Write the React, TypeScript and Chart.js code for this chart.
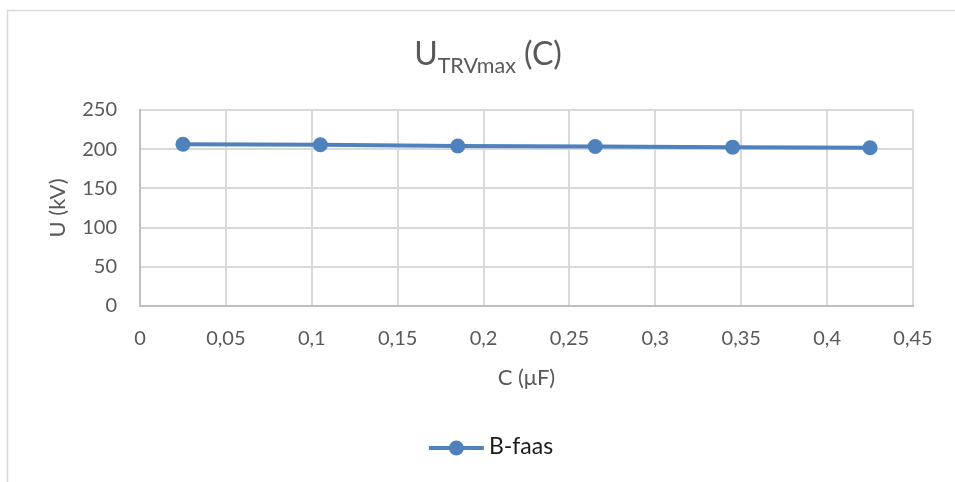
import React, { useEffect, useRef } from 'react';
import { Chart, registerables } from 'chart.js';

Chart.register(...registerables);

// ---- data ----
const capacitance = [0.025, 0.105, 0.185, 0.265, 0.345, 0.425];
const bFaas = [206.4, 205.6, 204.0, 203.4, 202.6, 201.8];
const seriesName = 'B-faas';
const titleMain = 'U';
const titleSub = 'TRVmax';
const titleTail = ' (C)';
const xAxisTitle = 'C (μF)';
const yAxisTitle = 'U (kV)';
const xMin = 0;
const xMax = 0.45;
const xStep = 0.05;
const yMin = 0;
const yMax = 250;
const yStep = 50;

// ---- style ----
const FONT = 'Lato, "Open Sans", sans-serif';
const BLUE = '#4F81BD';
const TEXT = '#595959';
const GRID = '#d9d9d9';
const AXIS = '#bfbfbf';
const W = 955;
const H = 482;
const CENTER_X = 488;

const fmt = (v: number) => String(Math.round(v * 1000) / 1000).replace('.', ',');

const decorPlugin = {
  id: 'decor',
  beforeDraw(chart: any) {
    const ctx = chart.ctx as CanvasRenderingContext2D;
    ctx.save();
    ctx.fillStyle = '#ffffff';
    ctx.fillRect(0, 0, chart.width, chart.height);
    ctx.strokeStyle = GRID;
    ctx.lineWidth = 1.5;
    ctx.beginPath();
    ctx.moveTo(7.5, chart.height);
    ctx.lineTo(7.5, 10.5);
    ctx.lineTo(chart.width, 10.5);
    ctx.stroke();
    ctx.restore();
  },
  afterDraw(chart: any) {
    const ctx = chart.ctx as CanvasRenderingContext2D;
    ctx.save();
    // title with subscript
    ctx.fillStyle = TEXT;
    ctx.textBaseline = 'alphabetic';
    ctx.textAlign = 'left';
    const bigFont = `32px ${FONT}`;
    const smallFont = `21.5px ${FONT}`;
    ctx.font = bigFont;
    const w1 = ctx.measureText(titleMain).width;
    const w3 = ctx.measureText(titleTail).width;
    ctx.font = smallFont;
    const w2 = ctx.measureText(titleSub).width;
    let x = CENTER_X - (w1 + w2 + w3) / 2;
    const base = 65;
    ctx.font = bigFont;
    ctx.fillText(titleMain, x, base);
    x += w1;
    ctx.font = smallFont;
    ctx.fillText(titleSub, x, base + 8);
    x += w2;
    ctx.font = bigFont;
    ctx.fillText(titleTail, x, base);

    // legend
    const ly = 448;
    ctx.font = `23px ${FONT}`;
    const tw = ctx.measureText(seriesName).width;
    const lineLen = 55;
    const gap = 5;
    const total = lineLen + gap + tw;
    const lx = CENTER_X + 3 - total / 2;
    ctx.strokeStyle = BLUE;
    ctx.lineWidth = 4;
    ctx.beginPath();
    ctx.moveTo(lx, ly);
    ctx.lineTo(lx + lineLen, ly);
    ctx.stroke();
    ctx.fillStyle = BLUE;
    ctx.beginPath();
    ctx.arc(lx + lineLen / 2, ly, 7.5, 0, Math.PI * 2);
    ctx.fill();
    ctx.fillStyle = '#1a1a1a';
    ctx.textBaseline = 'middle';
    ctx.fillText(seriesName, lx + lineLen + gap, ly - 1);
    ctx.restore();
  },
};

export default function App() {
  const ref = useRef<HTMLCanvasElement | null>(null);

  useEffect(() => {
    if (!ref.current) return;
    const chart = new Chart(ref.current, {
      type: 'line',
      data: {
        datasets: [
          {
            label: seriesName,
            data: capacitance.map((c, i) => ({ x: c, y: bFaas[i] })),
            borderColor: BLUE,
            backgroundColor: BLUE,
            borderWidth: 4,
            pointRadius: 7.5,
            pointBackgroundColor: BLUE,
            pointBorderColor: BLUE,
            pointBorderWidth: 0,
            tension: 0,
            fill: false,
          },
        ],
      },
      options: {
        responsive: false,
        animation: false,
        devicePixelRatio: 1,
        layout: { padding: { left: 41, right: 42, top: 110, bottom: 87 } },
        plugins: {
          legend: { display: false },
          title: { display: false },
          tooltip: { enabled: false },
        },
        scales: {
          x: {
            type: 'linear',
            min: xMin,
            max: xMax,
            ticks: {
              stepSize: xStep,
              color: TEXT,
              font: { family: FONT, size: 20 },
              padding: 21,
              callback: (v: any) => fmt(Number(v)),
            },
            grid: { color: GRID, lineWidth: 2, drawTicks: false },
            border: { color: AXIS, width: 2 },
            title: {
              display: true,
              text: xAxisTitle,
              color: TEXT,
              font: { family: FONT, size: 22 },
              padding: { top: 4, bottom: 4 },
            },
            afterFit: (s: any) => {
              s.height = 89;
            },
          },
          y: {
            type: 'linear',
            min: yMin,
            max: yMax,
            ticks: {
              stepSize: yStep,
              color: TEXT,
              font: { family: FONT, size: 20 },
              padding: 23,
            },
            grid: { color: GRID, lineWidth: 2, drawTicks: false },
            border: { color: AXIS, width: 2 },
            title: {
              display: true,
              text: yAxisTitle,
              color: TEXT,
              font: { family: FONT, size: 22 },
              padding: { top: 4, bottom: 4 },
            },
            afterFit: (s: any) => {
              s.width = 99;
            },
          },
        },
      },
      plugins: [decorPlugin],
    } as any);
    return () => chart.destroy();
  }, []);

  return (
    <div style={{ position: 'fixed', left: 0, top: 0, width: W, height: H, background: '#fff' }}>
      <canvas ref={ref} width={W} height={H} style={{ display: 'block', width: W, height: H }} />
    </div>
  );
}
